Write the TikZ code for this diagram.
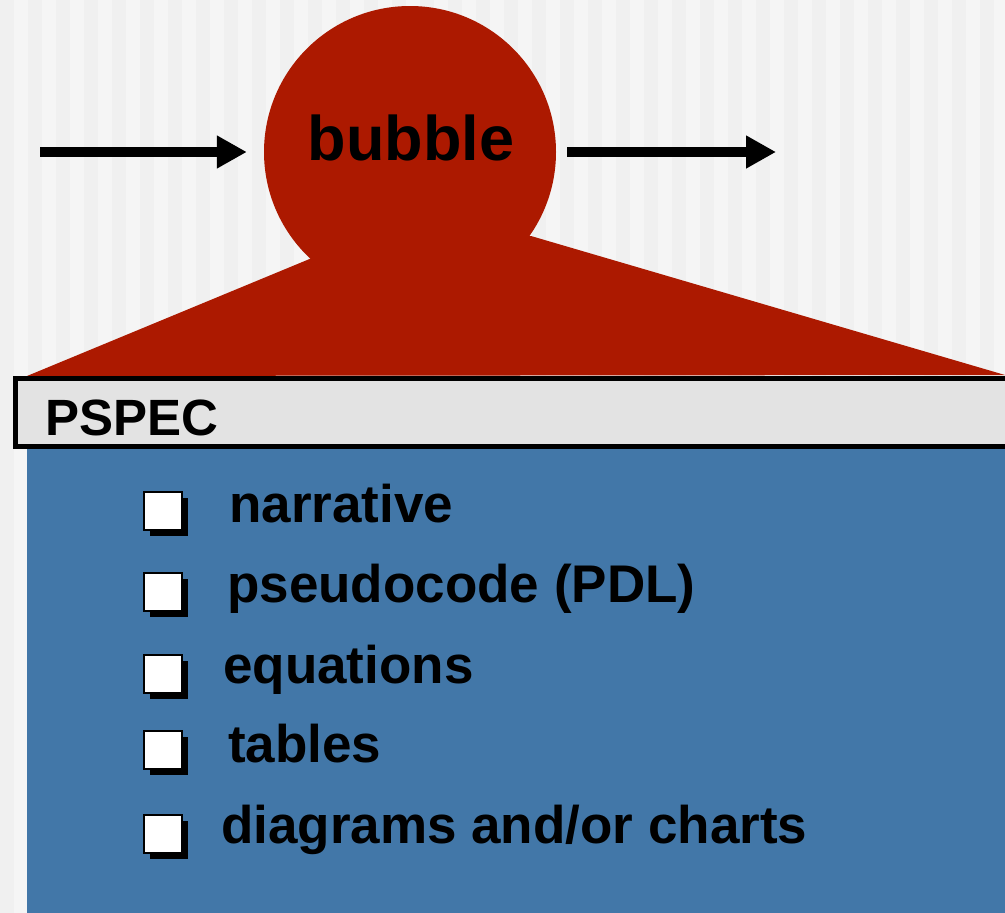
\documentclass[tikz,border=0pt]{standalone}
\usepackage{fontspec}
\setmainfont{Liberation Sans}
\usetikzlibrary{arrows.meta,shadows}
\definecolor{bubblered}{RGB}{172,25,0}
\definecolor{specblue}{RGB}{66,119,168}
\definecolor{bargray}{RGB}{227,227,227}
\definecolor{stripea}{RGB}{245,245,245}
\definecolor{stripeb}{RGB}{240,240,240}
\tikzset{
  flow/.style={line width=10pt, -{Triangle[length=30pt,width=31pt]}},
  itembox/.style={draw=black, line width=2pt, fill=white, minimum size=38pt, inner sep=0pt,
    drop shadow={shadow xshift=6pt, shadow yshift=-6pt, fill=black, opacity=1}},
  itemtext/.style={anchor=base west, inner sep=0pt, font=\fontsize{53}{60}\selectfont\bfseries},
}
\begin{document}
\begin{tikzpicture}[x=1pt, y=-1pt]
\useasboundingbox (0,0) rectangle (1005,913);
\clip (0,0) rectangle (1005,913);
% striped backdrop
\fill[stripea] (0,0) rectangle (1005,913);
\foreach \x in {0,28,...,1000} \fill[stripeb] (\x,0) rectangle ++(14,913);
% the bubble and its cone
\fill[bubblered] (27,376) -- (312,258) -- (531,236) -- (1005,375) -- cycle;
\node[circle, fill=bubblered, minimum size=292pt, inner sep=0pt] (bubble) at (410,152) {};
\node[anchor=base, inner sep=0pt, font=\fontsize{63}{70}\selectfont\bfseries] (name) at (411,160) {bubble};
\coordinate (src) at (40,152);
\coordinate (sink) at (776,152);
\draw[flow, shorten >=17pt] (src) -- (bubble.west);
\draw[flow, shorten <=11pt] (bubble.east) -- (sink);
% the spec panel
\fill[specblue] (27,446) rectangle (1005,913);
\draw[line width=5pt, fill=bargray] (15.5,378.5) rectangle (1015,446.5);
\node[anchor=base west, inner sep=0pt, font=\fontsize{51}{60}\selectfont\bfseries] (pspec) at (45,435) {PSPEC};
\node[itembox] (box1) at (163,511) {};
\node[itemtext] (item1) at (229,522) {narrative};
\node[itembox] (box2) at (163,592) {};
\node[itemtext] (item2) at (227,602) {pseudocode (PDL)};
\node[itembox] (box3) at (163,674) {};
\node[itemtext] (item3) at (223,683) {equations};
\node[itembox] (box4) at (163,750) {};
\node[itemtext] (item4) at (228,762) {tables};
\node[itembox] (box5) at (163,834) {};
\node[itemtext] (item5) at (221,843) {diagrams and/or charts};
\end{tikzpicture}
\end{document}
